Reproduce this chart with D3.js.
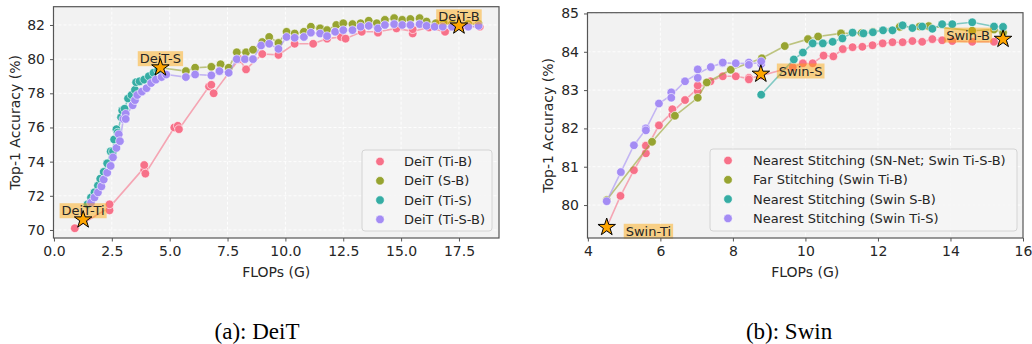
<!DOCTYPE html>
<html>
<head>
<meta charset="utf-8">
<script src="https://cdn.jsdelivr.net/npm/d3@7"></script>
<style>
  body { margin: 0; background: #fff; }
  text { font-family: "DejaVu Sans", sans-serif; fill: #262626; }
</style>
</head>
<body>
<svg id="chart" width="1032" height="344"></svg>
<script>
// ---- DeiT panel data: [FLOPs (G), top-1 accuracy (%)] ----
const deitTiB = [[0.9,70.1],[2.4,71.15],[2.4,71.5],[3.9,73.5],[3.9,73.8],[3.95,73.3],[5.2,76.0],[5.35,76.1],[5.4,75.9],[6.7,78.4],[6.8,78.5],[6.9,78.0],[8.0,80.0],[8.3,79.4],[9.0,80.3],[9.7,80.25],[10.4,80.9],[11.2,80.9],[11.8,81.2],[12.4,81.3],[12.6,81.2],[13.3,81.6],[14.0,81.65],[14.0,81.55],[14.8,81.8],[15.5,81.5],[15.5,81.75],[16.2,81.85],[16.9,81.6],[17.6,81.9],[18.4,81.9]];
const deitSB = [[4.6,79.5],[5.7,79.3],[6.1,79.5],[6.8,79.55],[7.2,79.7],[7.55,79.5],[7.9,80.4],[8.3,80.4],[8.6,80.55],[9.0,81.0],[9.3,81.3],[9.7,80.95],[10.05,81.6],[10.4,81.5],[10.8,81.6],[11.1,81.9],[11.5,81.8],[11.8,81.7],[12.2,82.0],[12.5,82.1],[12.9,82.05],[13.25,82.1],[13.6,82.25],[13.95,82.1],[14.3,82.3],[14.7,82.4],[15.05,82.3],[15.4,82.35],[15.8,82.4],[16.1,82.2],[16.5,82.1],[16.85,82.1],[17.2,82.05],[17.9,82.05],[18.35,82.05]];
const deitTiS = [[1.45,71.5],[1.6,71.9],[1.75,72.2],[1.9,72.6],[2.0,73.0],[2.15,73.4],[2.3,73.9],[2.45,74.6],[2.55,74.6],[2.6,75.3],[2.7,75.9],[2.75,75.7],[2.9,76.6],[2.95,77.0],[3.05,77.1],[3.2,77.7],[3.35,77.9],[3.5,78.2],[3.55,78.65],[3.7,78.7],[3.9,78.8],[4.1,79.0],[4.3,79.2],[4.5,79.35]];
const deitTiSB = [[1.6,71.6],[1.75,71.9],[1.9,72.2],[2.05,72.55],[2.15,72.95],[2.3,73.35],[2.45,73.75],[2.55,74.25],[2.7,74.8],[2.8,75.6],[2.85,75.2],[3.0,76.5],[3.1,76.8],[3.1,76.5],[3.4,77.3],[3.5,77.6],[3.6,77.9],[3.8,78.1],[4.0,78.3],[4.2,78.6],[4.4,78.8],[4.65,78.95],[4.85,79.1],[5.7,78.95],[6.1,79.1],[6.8,79.05],[7.15,79.3],[7.55,79.2],[7.9,80.0],[8.25,80.0],[8.6,80.0],[8.95,80.8],[9.3,80.9],[9.7,80.6],[10.05,81.3],[10.4,81.25],[10.8,81.3],[11.1,81.55],[11.5,81.5],[11.8,81.35],[12.15,81.6],[12.5,81.7],[12.9,81.7],[13.25,81.9],[13.6,81.95],[14.0,81.8],[14.3,82.0],[14.7,82.05],[15.05,82.0],[15.4,82.0],[15.8,82.05],[16.1,81.95],[16.45,81.9],[16.8,81.9],[17.2,81.9],[17.9,81.9],[18.35,81.95]];
const deitNames = ["DeiT (Ti-B)", "DeiT (S-B)", "DeiT (Ti-S)", "DeiT (Ti-S-B)"];
const deitAnchors = [["DeiT-Ti", 1.26, 70.6], ["DeiT-S", 4.6, 79.5], ["DeiT-B", 17.5, 81.95]];
const deitXTicks = [0, 2.5, 5, 7.5, 10, 12.5, 15, 17.5];
const deitYTicks = [70, 72, 74, 76, 78, 80, 82];

// ---- Swin panel data ----
const swinNearTiSB = [[4.52,79.42],[4.9,80.24],[5.27,80.91],[5.6,81.35],[5.6,81.55],[5.96,82.08],[6.33,82.35],[6.33,82.5],[6.68,82.74],[7.03,82.97],[7.03,83.12],[7.38,83.23],[7.72,83.36],[8.08,83.36],[8.44,83.32],[8.44,83.28],[8.78,83.38],[9.65,83.6],[9.93,83.7],[10.2,83.7],[10.5,83.9],[10.77,83.88],[11.03,84.07],[11.3,84.12],[11.57,84.13],[11.85,84.17],[12.13,84.22],[12.4,84.25],[12.68,84.25],[12.95,84.28],[13.22,84.26],[13.5,84.33],[13.77,84.3],[14.05,84.28],[14.6,84.26],[15.2,84.26]];
const swinFarTiB = [[4.52,80.13],[5.77,81.65],[6.4,82.33],[7.03,82.8],[7.28,83.2],[7.94,83.53],[8.8,83.83],[9.43,84.15],[10.07,84.33],[10.35,84.4],[10.98,84.48],[11.55,84.49],[11.86,84.52],[12.6,84.65],[13.15,84.66],[13.4,84.67],[14.6,84.55],[15.2,84.58],[15.45,84.5]];
const swinNearSB = [[8.78,82.88],[9.68,83.8],[9.93,83.98],[10.2,84.22],[10.48,84.22],[10.75,84.26],[11.02,84.35],[11.3,84.5],[11.6,84.48],[11.86,84.51],[12.14,84.56],[12.4,84.56],[12.68,84.69],[12.95,84.62],[13.22,84.66],[13.5,84.6],[13.77,84.72],[14.05,84.72],[14.6,84.77],[15.2,84.66],[15.45,84.65]];
const swinNearTiS = [[4.52,80.1],[4.91,80.86],[5.27,81.56],[5.6,82.0],[5.6,81.95],[5.96,82.65],[6.3,82.94],[6.3,82.8],[6.68,83.23],[7.03,83.54],[7.03,83.32],[7.39,83.6],[7.72,83.7],[7.72,83.72],[8.08,83.7],[8.44,83.72],[8.44,83.66],[8.78,83.68],[8.78,83.75]];
const swinNames = ["Nearest Stitching (SN-Net; Swin Ti-S-B)", "Far Stitching (Swin Ti-B)", "Nearest Stitching (Swin S-B)", "Nearest Stitching (Swin Ti-S)"];
const swinAnchors = [["Swin-Ti", 4.52, 79.42], ["Swin-S", 8.77, 83.42], ["Swin-B", 15.45, 84.33]];
const swinXTicks = [4, 6, 8, 10, 12, 14, 16];
const swinYTicks = [80, 81, 82, 83, 84, 85];

// husl palette, 4 colours
const colors = ["#f77189", "#97a431", "#36ada4", "#a48cf4"];

const svg = d3.select("#chart");

function drawPanel(cfg) {
  const x = d3.scaleLinear().domain(cfg.xDomain).range([cfg.left, cfg.right]);
  const y = d3.scaleLinear().domain(cfg.yDomain).range([cfg.bottom, cfg.top]);
  const g = svg.append("g");

  g.append("rect")
    .attr("x", cfg.left).attr("y", cfg.top)
    .attr("width", cfg.right - cfg.left).attr("height", cfg.bottom - cfg.top)
    .attr("fill", "#f2f2f2");

  // grid
  g.append("g").selectAll("line").data(cfg.xTicks).join("line")
    .attr("x1", d => x(d)).attr("x2", d => x(d))
    .attr("y1", cfg.top).attr("y2", cfg.bottom)
    .attr("stroke", "#fff").attr("stroke-width", 0.9).attr("stroke-dasharray", "3,2");
  g.append("g").selectAll("line").data(cfg.yTicks).join("line")
    .attr("y1", d => y(d)).attr("y2", d => y(d))
    .attr("x1", cfg.left).attr("x2", cfg.right)
    .attr("stroke", "#fff").attr("stroke-width", 0.9).attr("stroke-dasharray", "3,2");

  // series: mean line per x (like seaborn lineplot) plus scatter
  const line = d3.line().x(d => x(d[0])).y(d => y(d[1]));
  cfg.series.forEach((pts, i) => {
    const means = d3.sort(
      d3.rollups(pts, v => d3.mean(v, d => d[1]), d => d[0]),
      d => d[0]);
    g.append("path").datum(means)
      .attr("d", line).attr("fill", "none")
      .attr("stroke", colors[i]).attr("stroke-opacity", 0.6).attr("stroke-width", 1.6);
    g.append("g").selectAll("circle").data(pts).join("circle")
      .attr("cx", d => x(d[0])).attr("cy", d => y(d[1])).attr("r", 4.3)
      .attr("fill", colors[i]).attr("stroke", "#fff").attr("stroke-width", 0.6);
  });

  // anchor labels then stars
  cfg.anchors.forEach((a, i) => {
    const p = cfg.labelPlace[i];
    const t = g.append("text")
      .attr("x", x(a[1]) + p.dx).attr("y", y(a[2]) + p.dy)
      .attr("text-anchor", p.anchor).attr("dominant-baseline", "central")
      .attr("font-size", 13).text(a[0]);
    const bb = t.node().getBBox();
    g.insert("rect", () => t.node())
      .attr("x", bb.x - 2).attr("y", bb.y).attr("width", bb.width + 4).attr("height", bb.height)
      .attr("fill", "orange").attr("fill-opacity", 0.45);
  });
  g.append("g").selectAll("path").data(cfg.anchors).join("path")
    .attr("transform", d => `translate(${x(d[1])},${y(d[2])})`)
    .attr("d", d3.symbol(d3.symbolStar, 95))
    .attr("fill", "#ffa500").attr("stroke", "#000").attr("stroke-width", 1);

  // frame
  g.append("rect")
    .attr("x", cfg.left).attr("y", cfg.top)
    .attr("width", cfg.right - cfg.left).attr("height", cfg.bottom - cfg.top)
    .attr("fill", "none").attr("stroke", "#555").attr("stroke-width", 1.2);

  const xAxis = g.append("g").attr("transform", `translate(0,${cfg.bottom})`)
    .call(d3.axisBottom(x).tickValues(cfg.xTicks).tickFormat(d3.format(cfg.xFormat))
      .tickSize(3.5).tickPadding(4.5));
  const yAxis = g.append("g").attr("transform", `translate(${cfg.left},0)`)
    .call(d3.axisLeft(y).tickValues(cfg.yTicks).tickFormat(d3.format("d"))
      .tickSize(3.5).tickPadding(5));
  [xAxis, yAxis].forEach(ax => {
    ax.select(".domain").remove();
    ax.selectAll(".tick line").attr("stroke", "#555");
    ax.selectAll(".tick text").attr("font-size", 14).attr("font-family", "DejaVu Sans").attr("fill", "#262626");
  });

  g.append("text")
    .attr("x", (cfg.left + cfg.right) / 2).attr("y", 277)
    .attr("text-anchor", "middle").attr("font-size", 14).text("FLOPs (G)");
  g.append("text")
    .attr("transform", `translate(${cfg.yLabelX},${(cfg.top + cfg.bottom) / 2}) rotate(-90)`)
    .attr("text-anchor", "middle").attr("dominant-baseline", "central")
    .attr("font-size", 14).text("Top-1 Accuracy (%)");

  // legend
  const L = cfg.legend;
  g.append("rect")
    .attr("x", L.x).attr("y", L.y).attr("width", L.w).attr("height", L.h).attr("rx", 3)
    .attr("fill", "#f5f5f5").attr("fill-opacity", 0.9)
    .attr("stroke", "#d4d4d4").attr("stroke-width", 1);
  const item = g.append("g").selectAll("g").data(cfg.names).join("g")
    .attr("transform", (d, i) => `translate(${L.x},${L.y + 11.5 + i * 19.3})`);
  item.append("circle").attr("cx", L.mx).attr("r", 4.3)
    .attr("fill", (d, i) => colors[i]).attr("stroke", "#fff").attr("stroke-width", 0.6);
  item.append("text").attr("x", L.tx).attr("dominant-baseline", "central")
    .attr("font-size", 13).text(d => d);

  svg.append("text")
    .attr("x", cfg.captionX).attr("y", 339)
    .attr("text-anchor", "middle")
    .style("font-family", "'Liberation Serif', 'Times New Roman', serif")
    .style("fill", "#000")
    .attr("font-size", 23).text(cfg.caption);
}

drawPanel({
  left: 53.5, right: 499, top: 6.7, bottom: 238,
  xDomain: [-0.02, 19.23], yDomain: [69.53, 83.07],
  xTicks: deitXTicks, yTicks: deitYTicks, xFormat: ".1f",
  series: [deitTiB, deitSB, deitTiS, deitTiSB], names: deitNames,
  anchors: deitAnchors,
  labelPlace: [
    { dx: 0, dy: -9, anchor: "middle" },
    { dx: 0, dy: -9, anchor: "middle" },
    { dx: 0, dy: -9, anchor: "middle" }
  ],
  legend: { x: 362, y: 150, w: 130, h: 81, mx: 18, tx: 42 },
  yLabelX: 15, caption: "(a): DeiT", captionX: 257
});

drawPanel({
  left: 587.5, right: 1023, top: 12.7, bottom: 238,
  xDomain: [3.99, 16], yDomain: [79.14, 85.02],
  xTicks: swinXTicks, yTicks: swinYTicks, xFormat: "d",
  series: [swinNearTiSB, swinFarTiB, swinNearSB, swinNearTiS], names: swinNames,
  anchors: swinAnchors,
  labelPlace: [
    { dx: 19, dy: 4, anchor: "start" },
    { dx: 18, dy: -3, anchor: "start" },
    { dx: -13, dy: -4, anchor: "end" }
  ],
  legend: { x: 710, y: 149, w: 307, h: 82, mx: 18, tx: 43 },
  yLabelX: 548, caption: "(b): Swin", captionX: 789
});
</script>
</body>
</html>
